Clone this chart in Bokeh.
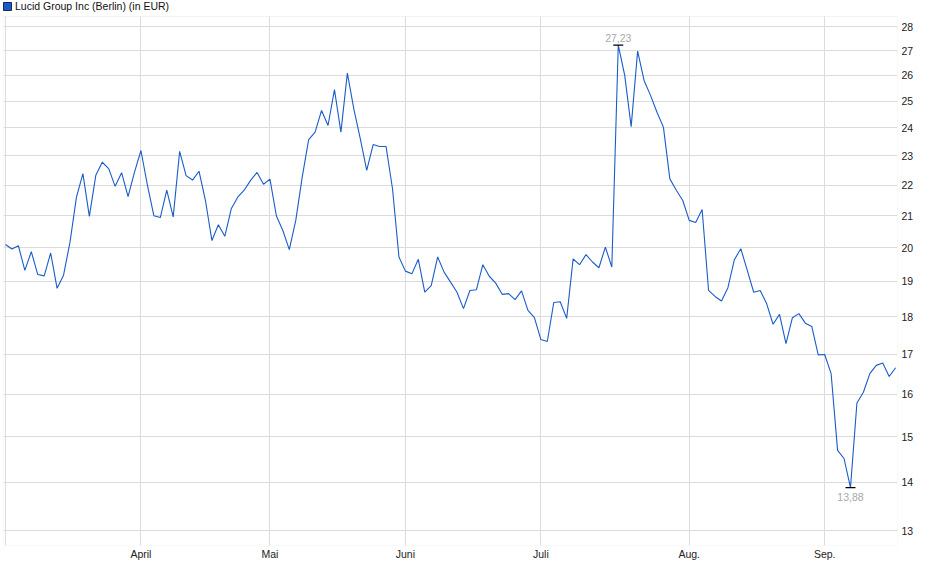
import numpy as np
from bokeh.plotting import figure
from bokeh.models import (Range1d, FixedTicker, Label, Legend, LegendItem,
                          BasicTickFormatter, BoxAnnotation)
from bokeh.embed import file_html
from bokeh.resources import INLINE

series_name = "Lucid Group Inc (Berlin) (in EUR)"

# daily closing prices (EUR), trading days from early March to mid September
prices = [
    20.10, 19.96, 20.06, 19.32, 19.88, 19.20, 19.16, 19.84, 18.80, 19.18,
    20.17, 21.60, 22.39, 20.98, 22.33, 22.78, 22.56, 21.96, 22.42, 21.62,
    22.44, 23.19, 22.00, 21.00, 20.94, 21.83, 20.96, 23.16, 22.32, 22.17,
    22.47, 21.49, 20.22, 20.71, 20.35, 21.22, 21.60, 21.83, 22.16, 22.43,
    22.03, 22.20, 20.99, 20.53, 19.94, 20.85, 22.27, 23.58, 23.85, 24.65,
    24.09, 25.44, 23.85, 26.09, 24.71, 23.61, 22.50, 23.40, 23.33, 23.33,
    21.88, 19.72, 19.30, 19.22, 19.65, 18.69, 18.88, 19.72, 19.27, 18.98,
    18.69, 18.23, 18.74, 18.76, 19.49, 19.15, 18.95, 18.63, 18.65, 18.48,
    18.73, 18.18, 17.98, 17.39, 17.34, 18.40, 18.42, 17.96, 19.66, 19.49,
    19.79, 19.57, 19.40, 20.02, 19.42, 27.23, 26.00, 24.05, 26.98, 25.80,
    25.22, 24.58, 24.03, 22.21, 21.83, 21.49, 20.85, 20.78, 21.20, 18.74,
    18.57, 18.44, 18.82, 19.64, 19.97, 19.32, 18.69, 18.74, 18.37, 17.80,
    18.07, 17.28, 17.98, 18.09, 17.83, 17.74, 16.99, 17.00, 16.51, 14.69,
    14.51, 13.88, 15.79, 16.05, 16.51, 16.72, 16.78, 16.44, 16.66,
]

# first trading day of each month (index into prices) and its label
month_ticks = [0, 21, 41, 62, 83, 106, 127]
month_labels = ["", "April", "Mai", "Juni", "Juli", "Aug.", "Sep."]

y_ticks = [13, 14, 15, 16, 17, 18, 19, 20, 21, 22, 23, 24, 25, 26, 27, 28]

# visible chart box (value range) and the strip above it used for the legend
x_lo, x_hi = -0.31, 138.29
y_lo, y_box_top, y_canvas_top = 12.71, 28.44, 29.14

FONT = "Liberation Sans"
FS = "10.5px"

x = np.arange(len(prices))

p = figure(
    width=932, height=567,
    x_range=Range1d(x_lo, x_hi), y_range=Range1d(y_lo, y_canvas_top),
    y_axis_type="log", y_axis_location="right",
    output_backend="svg", toolbar_location=None,
    min_border_left=3, min_border_right=35, min_border_top=0, min_border_bottom=22,
    background_fill_color="white", border_fill_color="white",
)
p.outline_line_color = None

p.xaxis.ticker = FixedTicker(ticks=month_ticks)
p.xaxis.major_label_overrides = {t: l for t, l in zip(month_ticks, month_labels)}
p.yaxis.ticker = FixedTicker(ticks=y_ticks)
p.yaxis.formatter = BasicTickFormatter()
p.yaxis.major_label_overrides = {t: str(t) for t in y_ticks}

for ax in (p.xaxis, p.yaxis):
    ax.axis_line_color = None
    ax.major_tick_line_color = None
    ax.minor_tick_line_color = None
    ax.major_tick_out = 0
    ax.major_tick_in = 0
    ax.major_label_text_font = FONT
    ax.major_label_text_font_size = FS
    ax.major_label_text_color = "#222222"
p.yaxis.major_label_standoff = 4
p.xaxis.major_label_standoff = 2

p.xgrid.ticker = FixedTicker(ticks=month_ticks)
p.xgrid.grid_line_color = "#dcdcdc"
p.ygrid.grid_line_color = "#dcdcdc"
p.xgrid.grid_line_width = 1
p.ygrid.grid_line_width = 1

p.line(x, prices, line_color="#1a5cc8", line_width=1.1)

imax = int(np.argmax(prices))
imin = int(np.argmin(prices))
p.scatter([imax, imin], [prices[imax], prices[imin]], marker="dash", size=10,
          line_color="black", line_width=1.2)

def fmt(v):
    return f"{v:.2f}".replace(".", ",")

p.add_layout(Label(x=imax, y=prices[imax], text=fmt(prices[imax]), text_align="center",
                   text_baseline="bottom", y_offset=3, text_font=FONT,
                   text_font_size=FS, text_color="#a9a9a9"))
p.add_layout(Label(x=imin, y=prices[imin], text=fmt(prices[imin]), text_align="center",
                   text_baseline="top", y_offset=-5, text_font=FONT,
                   text_font_size=FS, text_color="#a9a9a9"))

# white strip above the chart box, and the chart box border
p.add_layout(BoxAnnotation(bottom=y_box_top, fill_color="white", fill_alpha=1.0,
                           line_color=None))
p.add_layout(BoxAnnotation(top=y_box_top, fill_alpha=0.0, line_color="#d4d4d4",
                           line_width=1))

# legend swatch only (no visible mark in the plot area)
legend_box = p.quad(left=[np.nan], right=[np.nan], top=[np.nan], bottom=[np.nan],
                    fill_color="#1b5bc6", line_color="#0d2a66")
legend = Legend(items=[LegendItem(label=series_name, renderers=[legend_box])],
                location=(-1, 533), orientation="horizontal",
                padding=0, margin=0, spacing=0,
                glyph_width=10, glyph_height=10, label_height=10, label_standoff=3,
                label_text_font=FONT, label_text_font_size=FS, label_text_color="#111111",
                border_line_alpha=0, background_fill_alpha=0)
p.add_layout(legend)

open("out.html", "w").write(file_html(p, INLINE))
